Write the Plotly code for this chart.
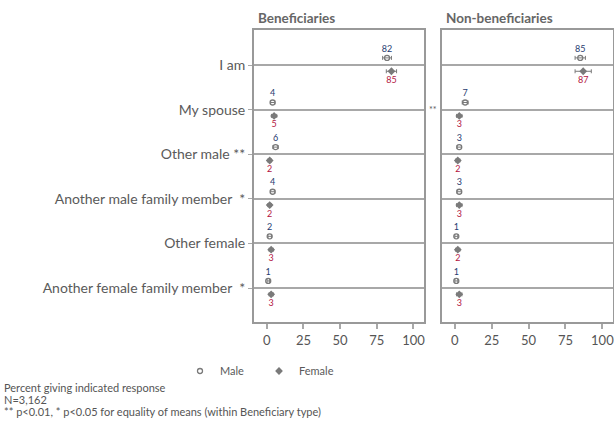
import plotly.graph_objects as go

# Response categories (top to bottom)
categories = ["I am", "My spouse", "Other male **", "Another male family member  *",
              "Other female", "Another female family member  *"]

# Percent giving each response, by respondent sex
benef_male = [82, 4, 6, 4, 2, 1]
benef_female = [85, 5, 2, 2, 3, 3]
nonbenef_male = [85, 7, 3, 3, 1, 1]
nonbenef_female = [87, 3, 2, 3, 2, 3]

# Half-widths of the 95% confidence intervals
benef_male_ci = [3, 1.5, 1.8, 1.5, 1.2, 0.8]
benef_female_ci = [3.5, 1.8, 1.2, 1.2, 1.4, 1.4]
nonbenef_male_ci = [3.5, 2, 1.5, 1.5, 1, 1]
nonbenef_female_ci = [5.5, 1.8, 1.4, 1.8, 1.4, 1.8]

x_ticks = [0, 25, 50, 75, 100]

FONT = "Lato"
GREY_TXT = "#5a5a5a"
MALE_TXT = "#1f3b70"
FEMALE_TXT = "#b3163f"
MARK = "#7a7a7a"
RULE = "#a8a8a8"

MALE_OFF = -0.16
FEMALE_OFF = 0.14

fig = go.Figure()

panels = [
    ("x", "y", benef_male, benef_female, benef_male_ci, benef_female_ci),
    ("x2", "y2", nonbenef_male, nonbenef_female, nonbenef_male_ci, nonbenef_female_ci),
]

for k, (xa, ya, m, f, mci, fci) in enumerate(panels):
    pos = list(range(len(categories)))
    fig.add_trace(go.Scatter(
        x=m, y=[p + MALE_OFF for p in pos], xaxis=xa, yaxis=ya,
        mode="markers+text", name="Male", showlegend=(k == 0),
        text=[str(v) for v in m], textposition="top center",
        textfont=dict(family=FONT, size=9, color=MALE_TXT),
        marker=dict(symbol="circle-open", size=5, color=MARK, line=dict(width=1.3, color=MARK)),
        error_x=dict(type="data", array=mci, color=MARK, thickness=1, width=2),
        cliponaxis=False,
    ))
    fig.add_trace(go.Scatter(
        x=f, y=[p + FEMALE_OFF for p in pos], xaxis=xa, yaxis=ya,
        mode="markers+text", name="Female", showlegend=(k == 0),
        text=[str(v) for v in f], textposition="bottom center",
        textfont=dict(family=FONT, size=9, color=FEMALE_TXT),
        marker=dict(symbol="diamond", size=6, color=MARK),
        error_x=dict(type="data", array=fci, color=MARK, thickness=1, width=2),
        cliponaxis=False,
    ))

W, H = 614, 430
ydom = [1 - 322 / H, 1 - 30 / H]
yrange = [5.76, -0.785]
xrange = [-8.7, 107.2]

xaxis_common = dict(
    range=xrange, tickvals=x_ticks, ticks="outside", ticklen=5, tickcolor=RULE, tickwidth=1.5,
    showgrid=False, zeroline=False, showline=True, mirror=True, linecolor="#999999", linewidth=2,
    tickfont=dict(family=FONT, size=13, color="#555555"), ticklabeloverflow="allow",
)
yaxis_common = dict(
    range=yrange, tickvals=list(range(len(categories))), showgrid=True, gridcolor=RULE,
    gridwidth=2, zeroline=False, showline=True, mirror=True, linecolor="#999999", linewidth=2,
    domain=ydom,
)

fig.update_layout(
    width=W, height=H, margin=dict(l=0, r=0, t=0, b=0),
    paper_bgcolor="white", plot_bgcolor="white",
    font=dict(family=FONT, color=GREY_TXT),
    xaxis=dict(domain=[254 / W, 424 / W], anchor="y", **xaxis_common),
    xaxis2=dict(domain=[442 / W, 613 / W], anchor="y2", **xaxis_common),
    yaxis=dict(anchor="x", ticktext=categories, ticks="outside", ticklen=4, tickcolor=RULE,
               tickfont=dict(family=FONT, size=14, color=GREY_TXT), **yaxis_common),
    yaxis2=dict(anchor="x2", showticklabels=False, **yaxis_common),
    legend=dict(orientation="h", x=180 / W, y=1 - 371 / H, xanchor="left", yanchor="middle",
                font=dict(family=FONT, size=11, color=GREY_TXT), itemwidth=30,
                entrywidth=34, bgcolor="rgba(0,0,0,0)"),
    showlegend=True,
)

# Panel titles
fig.add_annotation(text="<b>Beneficiaries</b>", x=256 / W, y=1 - 18 / H, xref="paper", yref="paper",
                   xanchor="left", yanchor="middle", showarrow=False,
                   font=dict(family=FONT, size=13.5, color="#666666"))
fig.add_annotation(text="<b>Non-beneficiaries</b>", x=444 / W, y=1 - 18 / H, xref="paper", yref="paper",
                   xanchor="left", yanchor="middle", showarrow=False,
                   font=dict(family=FONT, size=13.5, color="#666666"))

# Significance marker for the non-beneficiary panel
fig.add_annotation(text="**", x=-8.7, y=1, xref="x2", yref="y2", xanchor="right", yanchor="middle",
                   xshift=-3, showarrow=False, font=dict(family=FONT, size=9, color=GREY_TXT))

# Notes
notes = ["Percent giving indicated response", "N=3,162",
         "** p<0.01, * p<0.05 for equality of means (within Beneficiary type)"]
for i, t in enumerate(notes):
    fig.add_annotation(text=t, x=2 / W, y=1 - (387 + 12 * i) / H, xref="paper", yref="paper",
                       xanchor="left", yanchor="middle", showarrow=False,
                       font=dict(family=FONT, size=11, color="#555555"))

fig.write_html("out.html")
